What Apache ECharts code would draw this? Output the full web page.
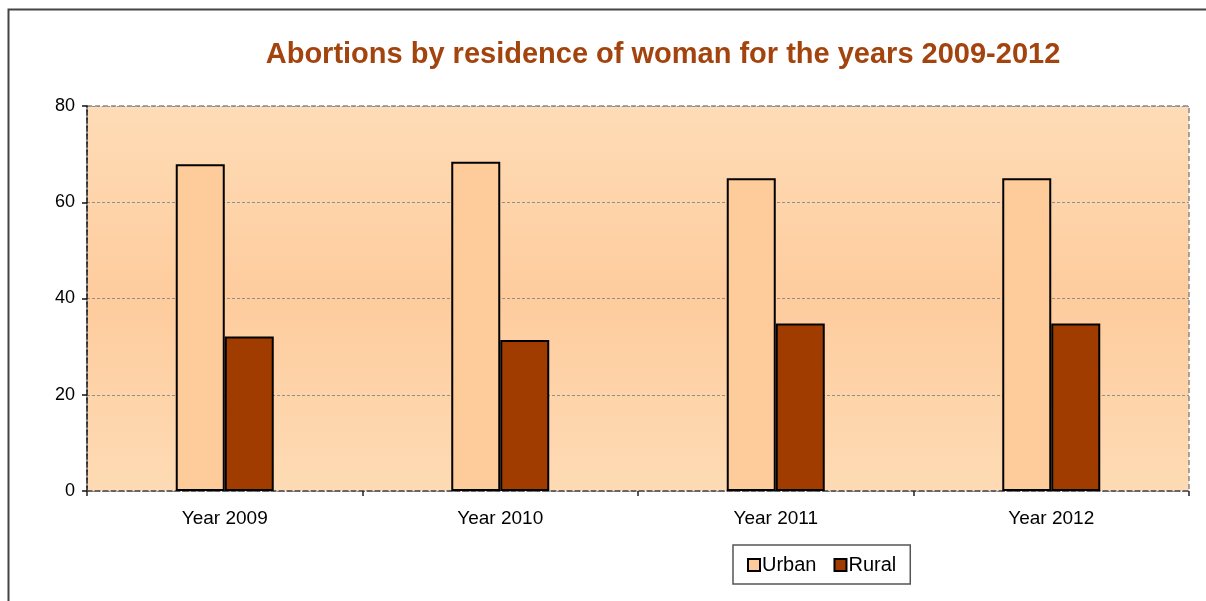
<!DOCTYPE html>
<html lang="en">

<head>
  <meta charset="UTF-8">
  <title>Abortions by residence of woman</title>
  <script src="https://cdn.jsdelivr.net/npm/echarts@6/dist/echarts.min.js"></script>
  <style>
    body { margin: 0; background: #fff; }
  </style>
</head>

<body>
  <div id="main" style="width: 1206px;height:601px;"></div>
  <script type="text/javascript">
    var years = ['Year 2009', 'Year 2010', 'Year 2011', 'Year 2012'];
    var urban = [67.9, 68.4, 65.0, 65.0];
    var rural = [32.1, 31.4, 34.8, 34.8];
    var yTicks = [0, 20, 40, 60, 80];

    var myChart = echarts.init(document.getElementById('main'));

    var font = '"Liberation Sans", Arial, sans-serif';

    var option = {
      backgroundColor: '#fff',
      animation: false,
      graphic: [{
        type: 'rect',
        shape: { x: 8.5, y: 9.5, width: 1220, height: 620 },
        style: { fill: 'none', stroke: '#444', lineWidth: 2 },
        silent: true
      }],
      title: {
        text: 'Abortions by residence of woman for the years 2009-2012',
        left: 658,
        textAlign: 'center',
        top: 35,
        textStyle: {
          color: '#A3440F',
          fontFamily: font,
          fontWeight: 'bold',
          fontSize: 29
        }
      },
      legend: {
        left: 733,
        top: 545,
        padding: [10, 14, 9, 14],
        itemWidth: 12,
        itemHeight: 12,
        itemGap: 17,
        borderColor: '#555',
        borderWidth: 1.5,
        borderRadius: 0,
        icon: 'rect',
        itemStyle: { borderColor: '#000', borderWidth: 2 },
        textStyle: { fontFamily: font, fontSize: 20, color: '#000', padding: [0, 0, 0, -3] },
        data: ['Urban', 'Rural']
      },
      grid: {
        left: 87,
        top: 106,
        right: 17,
        bottom: 110,
        show: true,
        borderColor: '#8a8a8a',
        borderWidth: 1.5,
        borderType: [5, 3],
        backgroundColor: {
          type: 'linear', x: 0, y: 0, x2: 0, y2: 1,
          colorStops: [
            { offset: 0, color: '#FEDCB7' },
            { offset: 0.5, color: '#FECC9D' },
            { offset: 1, color: '#FEDBB5' }
          ]
        }
      },
      xAxis: {
        type: 'category',
        data: years,
        axisLine: { lineStyle: { color: '#555', width: 1.5, type: [5, 3] } },
        axisTick: { show: true, length: 5, lineStyle: { color: '#222', width: 1.5 } },
        axisLabel: { fontFamily: font, fontSize: 19, color: '#000', margin: 18 },
        splitLine: { show: false }
      },
      yAxis: {
        type: 'value',
        min: yTicks[0],
        max: yTicks[yTicks.length - 1],
        interval: 20,
        axisLine: { show: true, lineStyle: { color: '#111', width: 1.5, type: [5, 3] } },
        axisTick: { show: true, length: 5, lineStyle: { color: '#111', width: 1.5 } },
        axisLabel: { fontFamily: font, fontSize: 18, color: '#000', margin: 12 },
        splitLine: { show: true, lineStyle: { color: '#8f8f8f', width: 1, type: [3, 2] } }
      },
      series: [
        {
          name: 'Urban',
          type: 'bar',
          data: urban,
          barWidth: 49,
          barGap: '0%',
          itemStyle: { color: '#FECC9A', borderColor: '#000', borderWidth: 2 }
        },
        {
          name: 'Rural',
          type: 'bar',
          data: rural,
          barWidth: 49,
          barGap: '0%',
          itemStyle: { color: '#A03C00', borderColor: '#000', borderWidth: 2 }
        }
      ]
    };

    myChart.setOption(option);
  </script>
</body>

</html>
